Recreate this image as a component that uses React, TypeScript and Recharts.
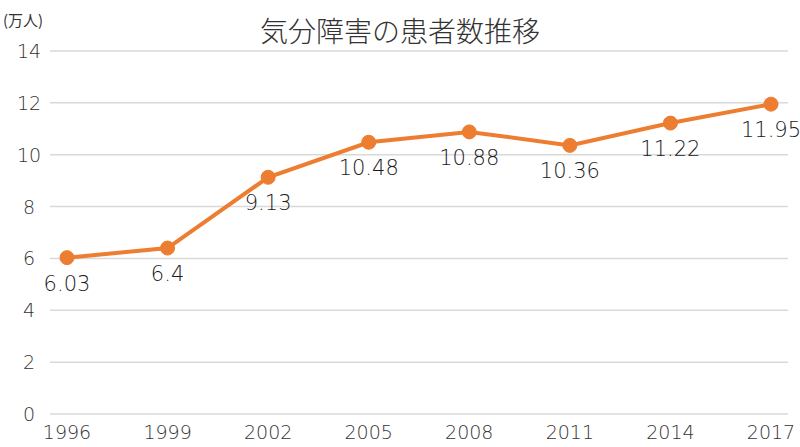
import React from 'react';
import { LineChart, Line, XAxis, YAxis, CartesianGrid, LabelList } from 'recharts';

const years = ['1996', '1999', '2002', '2005', '2008', '2011', '2014', '2017'];
const patients = [6.03, 6.4, 9.13, 10.48, 10.88, 10.36, 11.22, 11.95];
const yTicks = [0, 2, 4, 6, 8, 10, 12, 14];

const data = years.map((year, i) => ({ year, value: patients[i] }));

const FONT = '"Noto Sans CJK JP", "Noto Sans", sans-serif';
const NUM_FONT = '"DejaVu Sans", sans-serif';
const ORANGE = '#ED7D31';

const YTick = (props: any) => {
  const { y, payload } = props;
  return (
    <text x={29} y={y} dy={7} textAnchor="middle" fontSize={19} fontWeight={200} fill="#333" fontFamily={NUM_FONT}>
      {payload.value}
    </text>
  );
};

const App: React.FC = () => {
  return (
    <div style={{ position: 'absolute', left: 0, top: 0, width: 800, height: 447, background: '#fff' }}>
      <div
        style={{
          position: 'absolute', left: 0, top: 10, width: 800, textAlign: 'center',
          fontFamily: FONT, fontSize: 28, fontWeight: 300, color: '#333',
        }}
      >
        気分障害の患者数推移
      </div>
      <div style={{ position: 'absolute', left: 3, top: 9, fontFamily: FONT, fontSize: 15, color: '#333' }}>
        (万人)
      </div>
      <LineChart width={800} height={447} data={data} margin={{ top: 51, right: 12, bottom: 0, left: 0 }}>
        <CartesianGrid vertical={false} stroke="#d9d9d9" strokeWidth={1.5} />
        <XAxis
          dataKey="year"
          height={33}
          axisLine={false}
          tickLine={false}
          padding={{ left: 17, right: 17 }}
          tick={{ fontSize: 19, fontWeight: 200, fill: '#333', fontFamily: NUM_FONT }}
          tickMargin={6}
          interval={0}
        />
        <YAxis
          width={50}
          domain={[0, 14]}
          ticks={yTicks}
          axisLine={false}
          tickLine={false}
          tick={<YTick />}
        />
        <Line
          type="linear"
          dataKey="value"
          stroke={ORANGE}
          strokeWidth={4}
          dot={{ r: 7, fill: ORANGE, stroke: ORANGE, strokeWidth: 1 }}
          isAnimationActive={false}
        >
          <LabelList dataKey="value" position="bottom" offset={18} fontSize={21} fontWeight={200} fill="#1a1a1a" fontFamily={NUM_FONT} />
        </Line>
      </LineChart>
    </div>
  );
};

export default App;
